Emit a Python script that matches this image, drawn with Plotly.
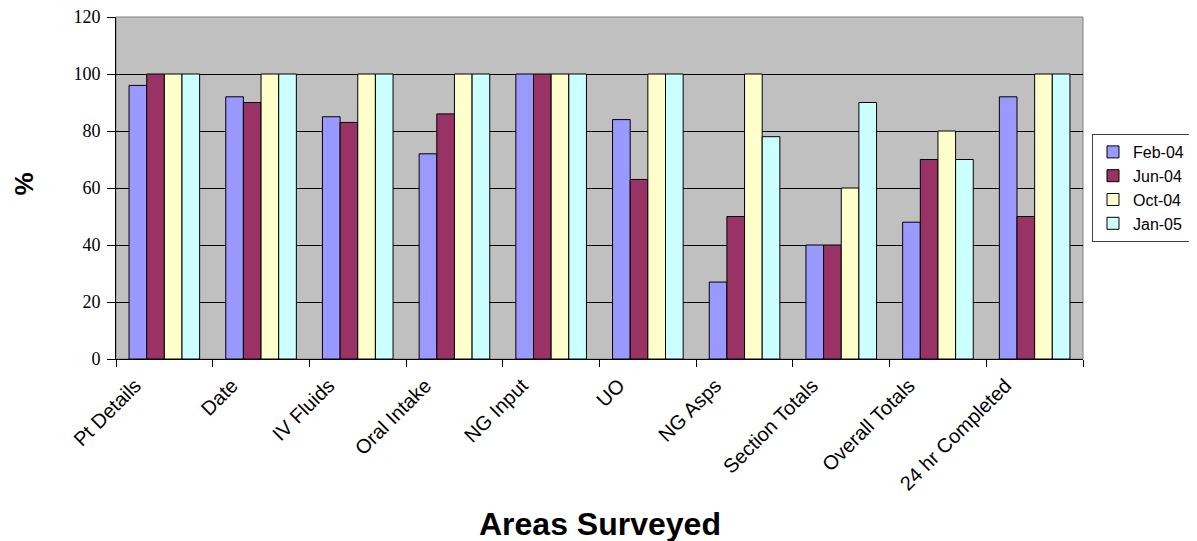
import plotly.graph_objects as go

categories = ["Pt Details", "Date", "IV Fluids", "Oral Intake", "NG Input", "UO",
              "NG Asps", "Section Totals", "Overall Totals", "24 hr Completed"]
series_names = ["Feb-04", "Jun-04", "Oct-04", "Jan-05"]
feb04 = [96, 92, 85, 72, 100, 84, 27, 40, 48, 92]
jun04 = [100, 90, 83, 86, 100, 63, 50, 40, 70, 50]
oct04 = [100, 100, 100, 100, 100, 100, 100, 60, 80, 100]
jan05 = [100, 100, 100, 100, 100, 100, 78, 90, 70, 100]
y_ticks = [0, 20, 40, 60, 80, 100, 120]

colors = ["#9999FF", "#993366", "#FFFFCC", "#CCFFFF"]
values = [feb04, jun04, oct04, jan05]

fig = go.Figure()
for name, vals, col in zip(series_names, values, colors):
    fig.add_trace(go.Bar(x=categories, y=vals, name=name,
                         marker=dict(color=col, line=dict(color="black", width=1))))

fig.update_layout(
    width=1215, height=533,
    margin=dict(l=108, r=140, t=9, b=182),
    paper_bgcolor="white", plot_bgcolor="#C0C0C0",
    barmode="group", bargap=0.27, bargroupgap=0,
    showlegend=True,
    legend=dict(x=1.0093, y=0.5, xanchor="left", yanchor="middle",
                bordercolor="#404040", borderwidth=1, bgcolor="white",
                font=dict(family="Liberation Sans", size=16, color="black"),
                itemwidth=30, tracegroupgap=0),
    font=dict(family="Liberation Sans", color="black"),
)
fig.update_xaxes(
    type="category", tickson="boundaries", ticks="outside", ticklen=7,
    tickcolor="black", showline=True, linecolor="black", linewidth=1,
    tickangle=-45, ticklabelshift=-29, ticklabelstandoff=6,
    tickfont=dict(family="Liberation Sans", size=20, color="black"),
    showgrid=False, automargin=False, ticklabeloverflow="allow",
)
fig.update_yaxes(
    range=[0, 120], tickvals=y_ticks, ticks="outside", ticklen=8,
    tickcolor="black", showline=True, linecolor="black", linewidth=1,
    showgrid=True, gridcolor="black", gridwidth=1, zeroline=False,
    tickfont=dict(family="Liberation Serif", size=18, color="black"),
    ticklabelstandoff=3, automargin=False, ticklabeloverflow="allow",
)
fig.add_shape(type="rect", xref="paper", yref="paper", x0=0, y0=0, x1=1, y1=1,
              line=dict(color="#808080", width=1), layer="below")
fig.add_annotation(text="<b>Areas Surveyed</b>", xref="paper", yref="paper",
                   x=0.5, y=-0.4825, xanchor="center", yanchor="middle",
                   showarrow=False, font=dict(family="Liberation Sans", size=32, color="black"))
fig.add_annotation(text="<b>%</b>", xref="paper", yref="paper",
                   x=-0.0951, y=0.51, xanchor="center", yanchor="middle", textangle=-90,
                   showarrow=False, font=dict(family="Liberation Sans", size=26, color="black"))

fig.write_html("out.html")
